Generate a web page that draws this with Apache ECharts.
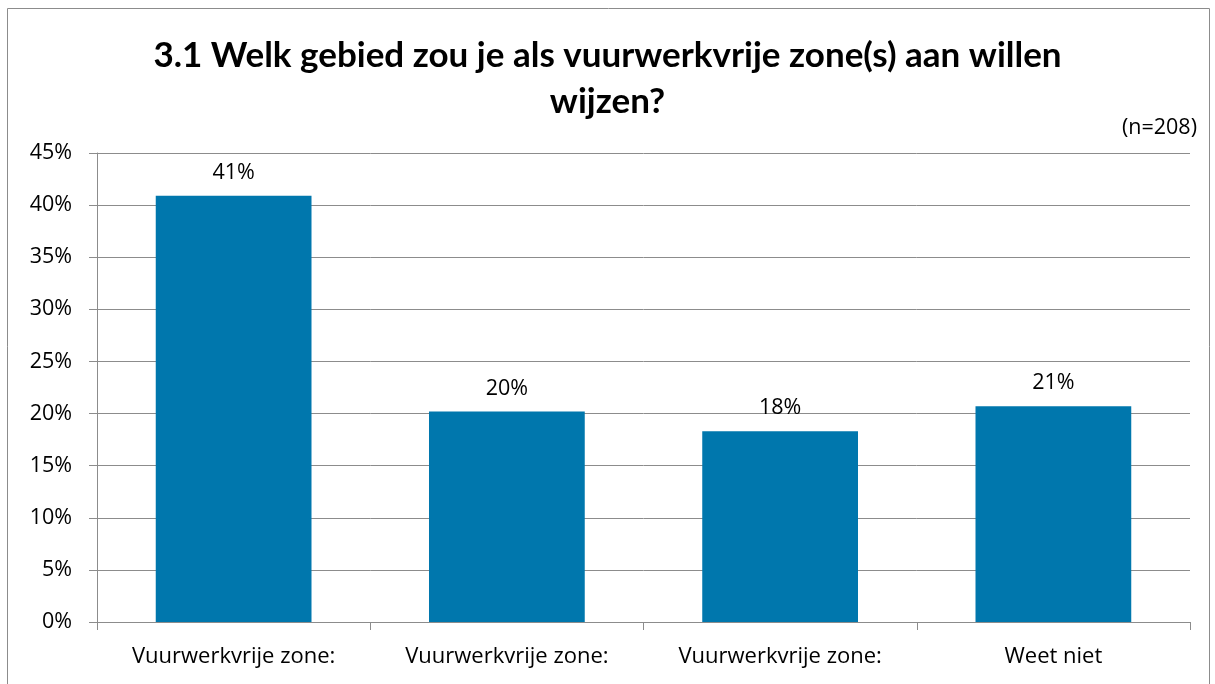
<!DOCTYPE html>
<html>
<head>
<meta charset="utf-8">
<script src="https://cdn.jsdelivr.net/npm/echarts@6/dist/echarts.min.js"></script>
<style>
  html, body { margin: 0; padding: 0; background: #fff; }
  #chart { width: 1215px; height: 684px; }
</style>
</head>
<body>
<div id="chart"></div>
<script>
  var categories = ['Vuurwerkvrije zone:', 'Vuurwerkvrije zone:', 'Vuurwerkvrije zone:', 'Weet niet']
  var values = [40.9, 20.2, 18.3, 20.7]
  var labels = ['41%', '20%', '18%', '21%']
  var titleText = '3.1 Welk gebied zou je als vuurwerkvrije zone(s) aan willen\nwijzen?'
  var noteText = '(n=208)'

  var titleFont = 'Lato'
  var font = 'Open Sans'
  var chart = echarts.init(document.getElementById('chart'))
  chart.setOption({
    animation: false,
    graphic: [{
      type: 'rect',
      shape: { x: 7.5, y: 8.5, width: 1202, height: 690 },
      style: { fill: 'none', stroke: '#8c8c8c', lineWidth: 1 }
    }],
    title: [{
      text: titleText,
      left: 'center',
      top: 28,
      textStyle: { fontFamily: titleFont, fontSize: 35, fontWeight: 'bold', color: '#000', lineHeight: 46 }
    }, {
      text: noteText,
      right: 13,
      top: 112,
      textStyle: { fontFamily: font, fontSize: 21.5, fontWeight: 'normal', color: '#000' }
    }],
    grid: { left: 97, right: 25, top: 153, bottom: 62, containLabel: false },
    xAxis: {
      type: 'category',
      data: categories,
      axisLine: { lineStyle: { color: '#8c8c8c' } },
      axisTick: { show: true, length: 8, lineStyle: { color: '#8c8c8c' } },
      axisLabel: { fontFamily: font, fontSize: 22, color: '#000', margin: 24 }
    },
    yAxis: {
      type: 'value',
      min: 0,
      max: 45,
      interval: 5,
      axisLine: { show: true, lineStyle: { color: '#8c8c8c' } },
      axisTick: { show: true, length: 8, inside: false, lineStyle: { color: '#8c8c8c' } },
      splitLine: { lineStyle: { color: '#8c8c8c', width: 1 } },
      axisLabel: { fontFamily: font, fontSize: 21.5, color: '#000', margin: 25, formatter: '{value}%' }
    },
    series: [{
      type: 'bar',
      data: values,
      barWidth: '57%',
      itemStyle: { color: '#0077ad' },
      label: {
        show: true,
        position: 'top',
        distance: 12,
        fontFamily: font,
        fontSize: 21.5,
        color: '#000',
        formatter: function (p) { return labels[p.dataIndex] }
      }
    }]
  })
</script>
</body>
</html>
